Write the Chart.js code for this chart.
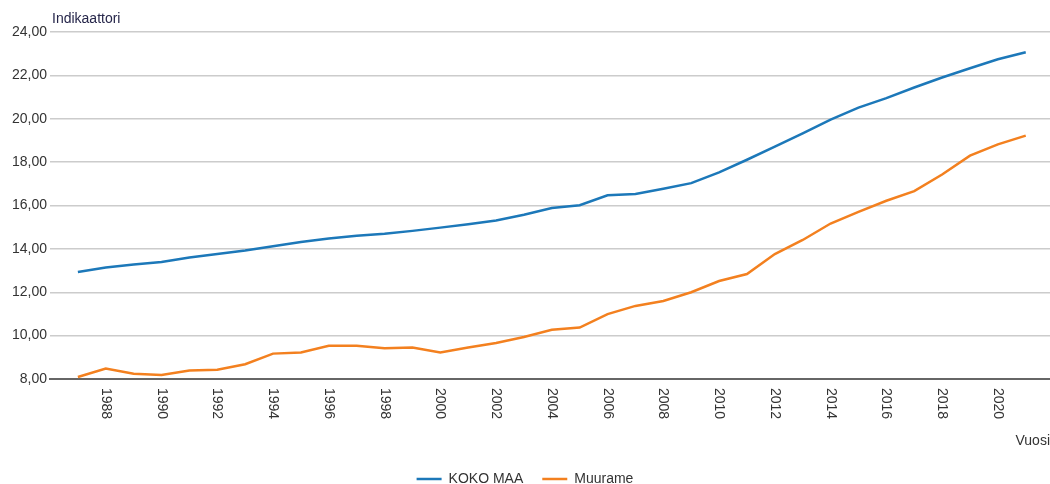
<!DOCTYPE html>
<html lang="fi">
<head>
    <meta charset="UTF-8">
    <title>Indikaattori</title>
    <script src="https://cdn.jsdelivr.net/npm/chart.js"></script>
    <style>
        html, body {
            margin: 0;
            padding: 0;
            background: #fff;
        }
        #wrap {
            width: 1050px;
            height: 484px;
        }
    </style>
</head>
<body>
    <div id="wrap"><canvas id="myChart"></canvas></div>

    <script>
        const years = [1987, 1988, 1989, 1990, 1991, 1992, 1993, 1994, 1995, 1996, 1997, 1998,
            1999, 2000, 2001, 2002, 2003, 2004, 2005, 2006, 2007, 2008, 2009, 2010, 2011,
            2012, 2013, 2014, 2015, 2016, 2017, 2018, 2019, 2020, 2021];
        const kokoMaa = [12.93, 13.14, 13.28, 13.40, 13.60, 13.76, 13.92, 14.12, 14.32, 14.48,
            14.61, 14.70, 14.83, 14.98, 15.14, 15.31, 15.57, 15.88, 16.01, 16.47, 16.53,
            16.77, 17.03, 17.53, 18.11, 18.71, 19.33, 19.96, 20.51, 20.95, 21.44, 21.90,
            22.33, 22.74, 23.07];
        const muurame = [8.09, 8.48, 8.24, 8.19, 8.39, 8.43, 8.68, 9.17, 9.22, 9.53, 9.53,
            9.42, 9.45, 9.22, 9.45, 9.66, 9.94, 10.27, 10.37, 10.99, 11.37, 11.60, 12.00,
            12.52, 12.84, 13.76, 14.41, 15.17, 15.71, 16.22, 16.66, 17.43, 18.30, 18.82, 19.22];
        const tickLabels = ['1988', '1990', '1992', '1994', '1996', '1998', '2000', '2002',
            '2004', '2006', '2008', '2010', '2012', '2014', '2016', '2018', '2020'];
        const seriesNames = ['KOKO MAA', 'Muurame'];
        const yTitle = 'Indikaattori';
        const xTitle = 'Vuosi';

        const FONT = 'Arial, "Liberation Sans", sans-serif';
        const BLUE = '#1c78b9';
        const ORANGE = '#f3801f';

        // x labels read top-to-bottom in the original, so they are drawn by hand
        const extraText = {
            id: 'extraText',
            afterDraw(chart) {
                const ctx = chart.ctx;
                const xs = chart.scales.x;
                const area = chart.chartArea;
                ctx.save();
                ctx.fillStyle = '#333';
                ctx.font = '14px ' + FONT;
                ctx.textAlign = 'left';
                ctx.textBaseline = 'middle';
                tickLabels.forEach(t => {
                    const x = xs.getPixelForValue(Number(t));
                    ctx.save();
                    ctx.translate(x, area.bottom + 9);
                    ctx.rotate(Math.PI / 2);
                    ctx.fillText(t, 0, 0);
                    ctx.restore();
                });
                ctx.fillStyle = '#26264a';
                ctx.fillText(yTitle, area.left + 2, 19);
                ctx.restore();
            }
        };

        const ctx = document.getElementById('myChart').getContext('2d');
        new Chart(ctx, {
            type: 'line',
            data: {
                datasets: [
                    {
                        label: seriesNames[0],
                        data: years.map((y, i) => ({ x: y, y: kokoMaa[i] })),
                        borderColor: BLUE,
                        backgroundColor: BLUE,
                        borderWidth: 2.5,
                        pointRadius: 0,
                        tension: 0
                    },
                    {
                        label: seriesNames[1],
                        data: years.map((y, i) => ({ x: y, y: muurame[i] })),
                        borderColor: ORANGE,
                        backgroundColor: ORANGE,
                        borderWidth: 2.5,
                        pointRadius: 0,
                        tension: 0
                    }
                ]
            },
            options: {
                responsive: true,
                maintainAspectRatio: false,
                animation: false,
                layout: {
                    padding: { top: 32, right: 0, left: 0, bottom: -12 }
                },
                scales: {
                    x: {
                        type: 'linear',
                        min: 1986,
                        max: 2021.87,
                        grid: { display: false, drawTicks: false },
                        border: { display: true, color: '#666', width: 2 },
                        ticks: { display: false },
                        title: {
                            display: true,
                            text: xTitle,
                            align: 'end',
                            color: '#333',
                            font: { family: FONT, size: 14 },
                            padding: { top: 0, bottom: 3 }
                        },
                        afterFit(scale) { scale.height = 74; }
                    },
                    y: {
                        min: 8,
                        max: 24,
                        grid: { color: '#cccccc', lineWidth: 1.5, drawTicks: false },
                        border: { display: false },
                        ticks: {
                            stepSize: 2,
                            padding: 3,
                            color: '#333',
                            font: { family: FONT, size: 14 },
                            callback: v => v.toFixed(2).replace('.', ',')
                        },
                        afterFit(scale) { scale.width = 50; }
                    }
                },
                plugins: {
                    legend: {
                        position: 'bottom',
                        labels: {
                            usePointStyle: true,
                            pointStyle: 'line',
                            pointStyleWidth: 25,
                            padding: 19,
                            color: '#333',
                            font: { family: FONT, size: 14 }
                        }
                    },
                    tooltip: { enabled: false }
                }
            },
            plugins: [extraText]
        });
    </script>
</body>
</html>
